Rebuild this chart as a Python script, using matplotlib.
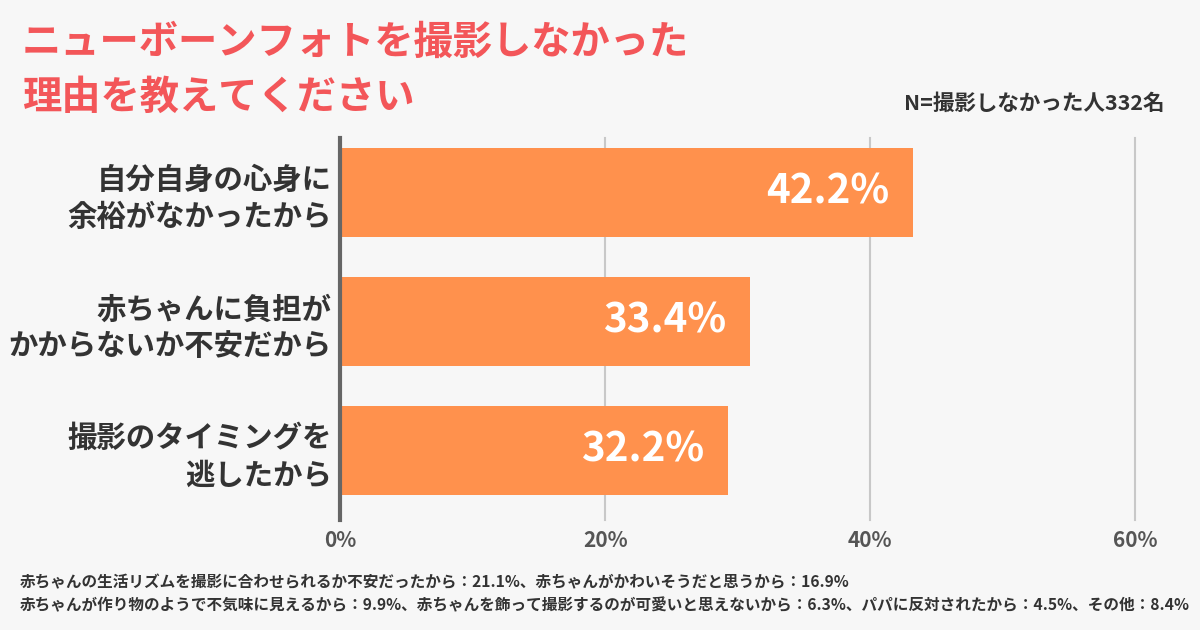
"""
ニューボーンフォトを撮影しなかった理由 - horizontal bar chart
"""

import matplotlib
matplotlib.use("Agg")
import matplotlib.pyplot as plt

# data
categories = [
    "自分自身の心身に\n余裕がなかったから",
    "赤ちゃんに負担が\nかからないか不安だから",
    "撮影のタイミングを\n逃したから",
]
bar_lengths = [43.2, 30.9, 29.3]          # drawn bar lengths (%)
value_labels = ["42.2%", "33.4%", "32.2%"]  # printed labels
x_ticks = [0, 20, 40, 60]
x_tick_labels = ["0%", "20%", "40%", "60%"]

title_lines = ["ニューボーンフォトを撮影しなかった", "理由を教えてください"]
sample_note = "N=撮影しなかった人332名"
footnotes = [
    "赤ちゃんの生活リズムを撮影に合わせられるか不安だったから：21.1%、赤ちゃんがかわいそうだと思うから：16.9%",
    "赤ちゃんが作り物のようで不気味に見えるから：9.9%、赤ちゃんを飾って撮影するのが可愛いと思えないから：6.3%、パパに反対されたから：4.5%、その他：8.4%",
]

BG = "#f7f7f7"
BAR = "#ff914d"
TITLE = "#f35659"
DARK = "#333333"

plt.rcParams["font.family"] = ["Noto Sans CJK JP", "DejaVu Sans"]

fig = plt.figure(figsize=(12, 6.3), dpi=100, facecolor=BG)
ax = fig.add_axes([340 / 1200, 1 - 520 / 630, 802 / 1200, 382 / 630])
ax.set_facecolor(BG)

y = list(range(len(categories)))
ax.barh(y, bar_lengths, height=0.69, color=BAR, zorder=2)
ax.set_xlim(0, 60.5)
ax.set_ylim(2.54, -0.42)

# value labels inside bar ends
for yi, length, lab in zip(y, bar_lengths, value_labels):
    ax.text(length - 1.8, yi, lab, ha="right", va="center", color="white",
            fontsize=29, fontweight="bold", zorder=3)

# grid + axes styling
for xt in x_ticks[1:]:
    ax.axvline(xt, color="#c8c8c8", lw=1.5, zorder=1, clip_on=False)
for side in ["top", "right", "bottom"]:
    ax.spines[side].set_visible(False)
ax.spines["left"].set_color("#666666")
ax.spines["left"].set_linewidth(3)
ax.spines["left"].set_zorder(4)

ax.set_xticks(x_ticks)
ax.set_xticklabels(x_tick_labels, fontsize=15, fontweight="bold", color="#555555")
ax.tick_params(axis="x", length=0, pad=7)

ax.set_yticks(y)
ax.set_yticklabels(categories, fontsize=21.2, fontweight="bold", color=DARK,
                   linespacing=1.3)
ax.tick_params(axis="y", length=0, pad=6)

# title and notes
fig.text(22 / 1200, 1 - 42 / 630, title_lines[0], ha="left", va="center",
         fontsize=28.3, fontweight="bold", color=TITLE)
fig.text(22 / 1200, 1 - 97 / 630, title_lines[1], ha="left", va="center",
         fontsize=28.3, fontweight="bold", color=TITLE)
fig.text(1165 / 1200, 1 - 103 / 630, sample_note, ha="right", va="center",
         fontsize=15.5, fontweight="bold", color=DARK)

fig.text(20 / 1200, 1 - 582 / 630, footnotes[0], ha="left", va="center",
         fontsize=11.25, fontweight="bold", color=DARK)
fig.text(20 / 1200, 1 - 605 / 630, footnotes[1], ha="left", va="center",
         fontsize=11.25, fontweight="bold", color=DARK)

fig.savefig("out.png", dpi=100, facecolor=BG)
